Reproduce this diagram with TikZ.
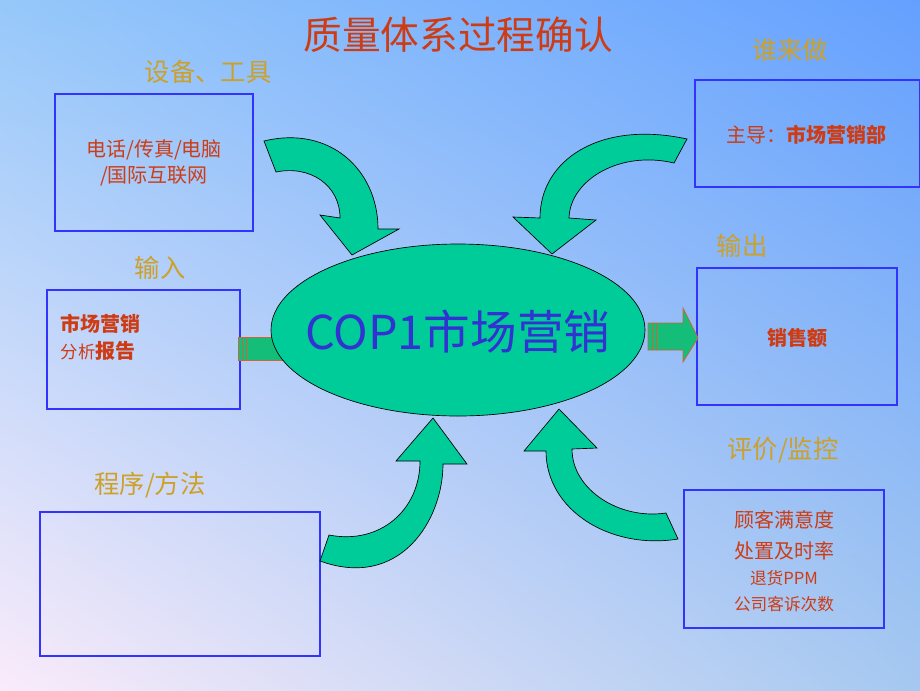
\documentclass[tikz,border=0pt]{standalone}
\usepackage{fontspec}
\usetikzlibrary{shadings}
\setmainfont{Noto Sans CJK SC}
\newfontfamily\cjk{Noto Sans CJK SC}
\definecolor{labgold}{RGB}{205,160,40}
\definecolor{txtred}{RGB}{205,60,20}
\definecolor{arrgreen}{RGB}{0,204,153}
\definecolor{strgreen}{RGB}{20,190,120}
\definecolor{cblue}{RGB}{50,50,210}
\definecolor{bgul}{RGB}{150,200,250}
\definecolor{bgur}{RGB}{100,160,255}
\definecolor{bgll}{RGB}{250,235,250}
\definecolor{bglr}{RGB}{165,200,240}
\begin{document}
\begin{tikzpicture}[x=0.75pt,y=-0.75pt,
  box/.style={draw=blue!80!white,line width=0.8pt},
  lbl/.style={text=labgold,font=\cjk\fontsize{19}{22}\selectfont},
  btxt/.style={text=txtred,font=\cjk\fontsize{15}{20}\selectfont,align=center},
  carrow/.style={fill=arrgreen,draw=black,line width=0.5pt},
  sarrow/.style={fill=strgreen,draw=brown!80!red,line width=0.6pt}]
\useasboundingbox (0,0) rectangle (920,690);
\shade[upper left=bgul,upper right=bgur,lower left=bgll,lower right=bglr] (0,0) rectangle (920,690);
\node[text=txtred,font=\cjk\fontsize{29}{32}\selectfont] (title) at (458,35) {质量体系过程确认};
% boxes
\draw[box] (55,94) rectangle (253,231);
\node[lbl] (l1) at (208,72) {设备、工具};
\node[btxt] (t1) at (154,163) {电话/传真/电脑\\/国际互联网};
\draw[box] (695,80) rectangle (920,187);
\node[lbl] (l2) at (790,50) {谁来做};
\node[btxt] (t2) at (806,135) {主导：\textbf{市场营销部}};
\draw[box] (47,290) rectangle (240,409);
\node[lbl] (l3) at (160,268) {输入};
\node[btxt,align=left,anchor=west] (t3) at (56,337) {\textbf{市场营销}\\{\fontsize{13}{20}\selectfont 分析}\textbf{报告}};
\draw[box] (697,268) rectangle (897,405);
\node[lbl] (l4) at (742,246) {输出};
\node[btxt] (t4) at (797,338) {\textbf{销售额}};
\draw[box] (684,490) rectangle (884,628);
\node[lbl] (l5) at (783,450) {评价/监控};
\node[btxt,font=\cjk\fontsize{15}{23}\selectfont] (t5) at (784,535) {顾客满意度\\处置及时率};
\node[btxt,font=\cjk\fontsize{12.5}{19}\selectfont] (t6) at (784,591) {退货PPM\\公司客诉次数};
\draw[box] (40,512) rectangle (320,656);
\node[lbl] (l6) at (150,485) {程序/方法};
% straight arrows
\draw[sarrow] (238,337) -- (290,337) -- (290,360) -- (238,360) -- cycle;
\draw[sarrow] (242,337) -- (242,360) (246,337) -- (246,360);
\draw[sarrow] (648,323) -- (683,323) -- (683,308) -- (698,338) -- (683,362) -- (683,350) -- (648,350) -- cycle;
\draw[sarrow] (652,323) -- (652,350) (656,323) -- (656,350);
% ellipse
\fill[arrgreen,draw=black,line width=0.5pt] (458,330) ellipse [x radius=187, y radius=86];
\node[text=cblue,font=\cjk\fontsize{35}{40}\selectfont] (c) at (458,332) {COP1市场营销};
% curved arrows
\draw[carrow] (264,141) -- (276,172) .. controls (310,165) and (340,185) .. (340,218) -- (320,215) -- (352,255) -- (399,229) -- (378,229) .. controls (378,170) and (330,125) .. (264,141) -- cycle;
\draw[carrow] (687,139) .. controls (600,120) and (540,160) .. (540,218) -- (513,217) -- (552,254) -- (596,220) -- (569,218) .. controls (570,180) and (620,150) .. (674,163) -- cycle;
\draw[carrow] (329,535) -- (320,561) .. controls (400,590) and (443,520) .. (443,464) -- (467,464) -- (433,418) -- (396,461) -- (420,461) .. controls (420,510) and (380,545) .. (329,535) -- cycle;
\draw[carrow] (678,539) -- (666,513) .. controls (620,520) and (572,490) .. (572,449) -- (597,448) -- (559,409) -- (524,451) -- (546,451) .. controls (546,510) and (610,550) .. (678,539) -- cycle;
\end{tikzpicture}
\end{document}
